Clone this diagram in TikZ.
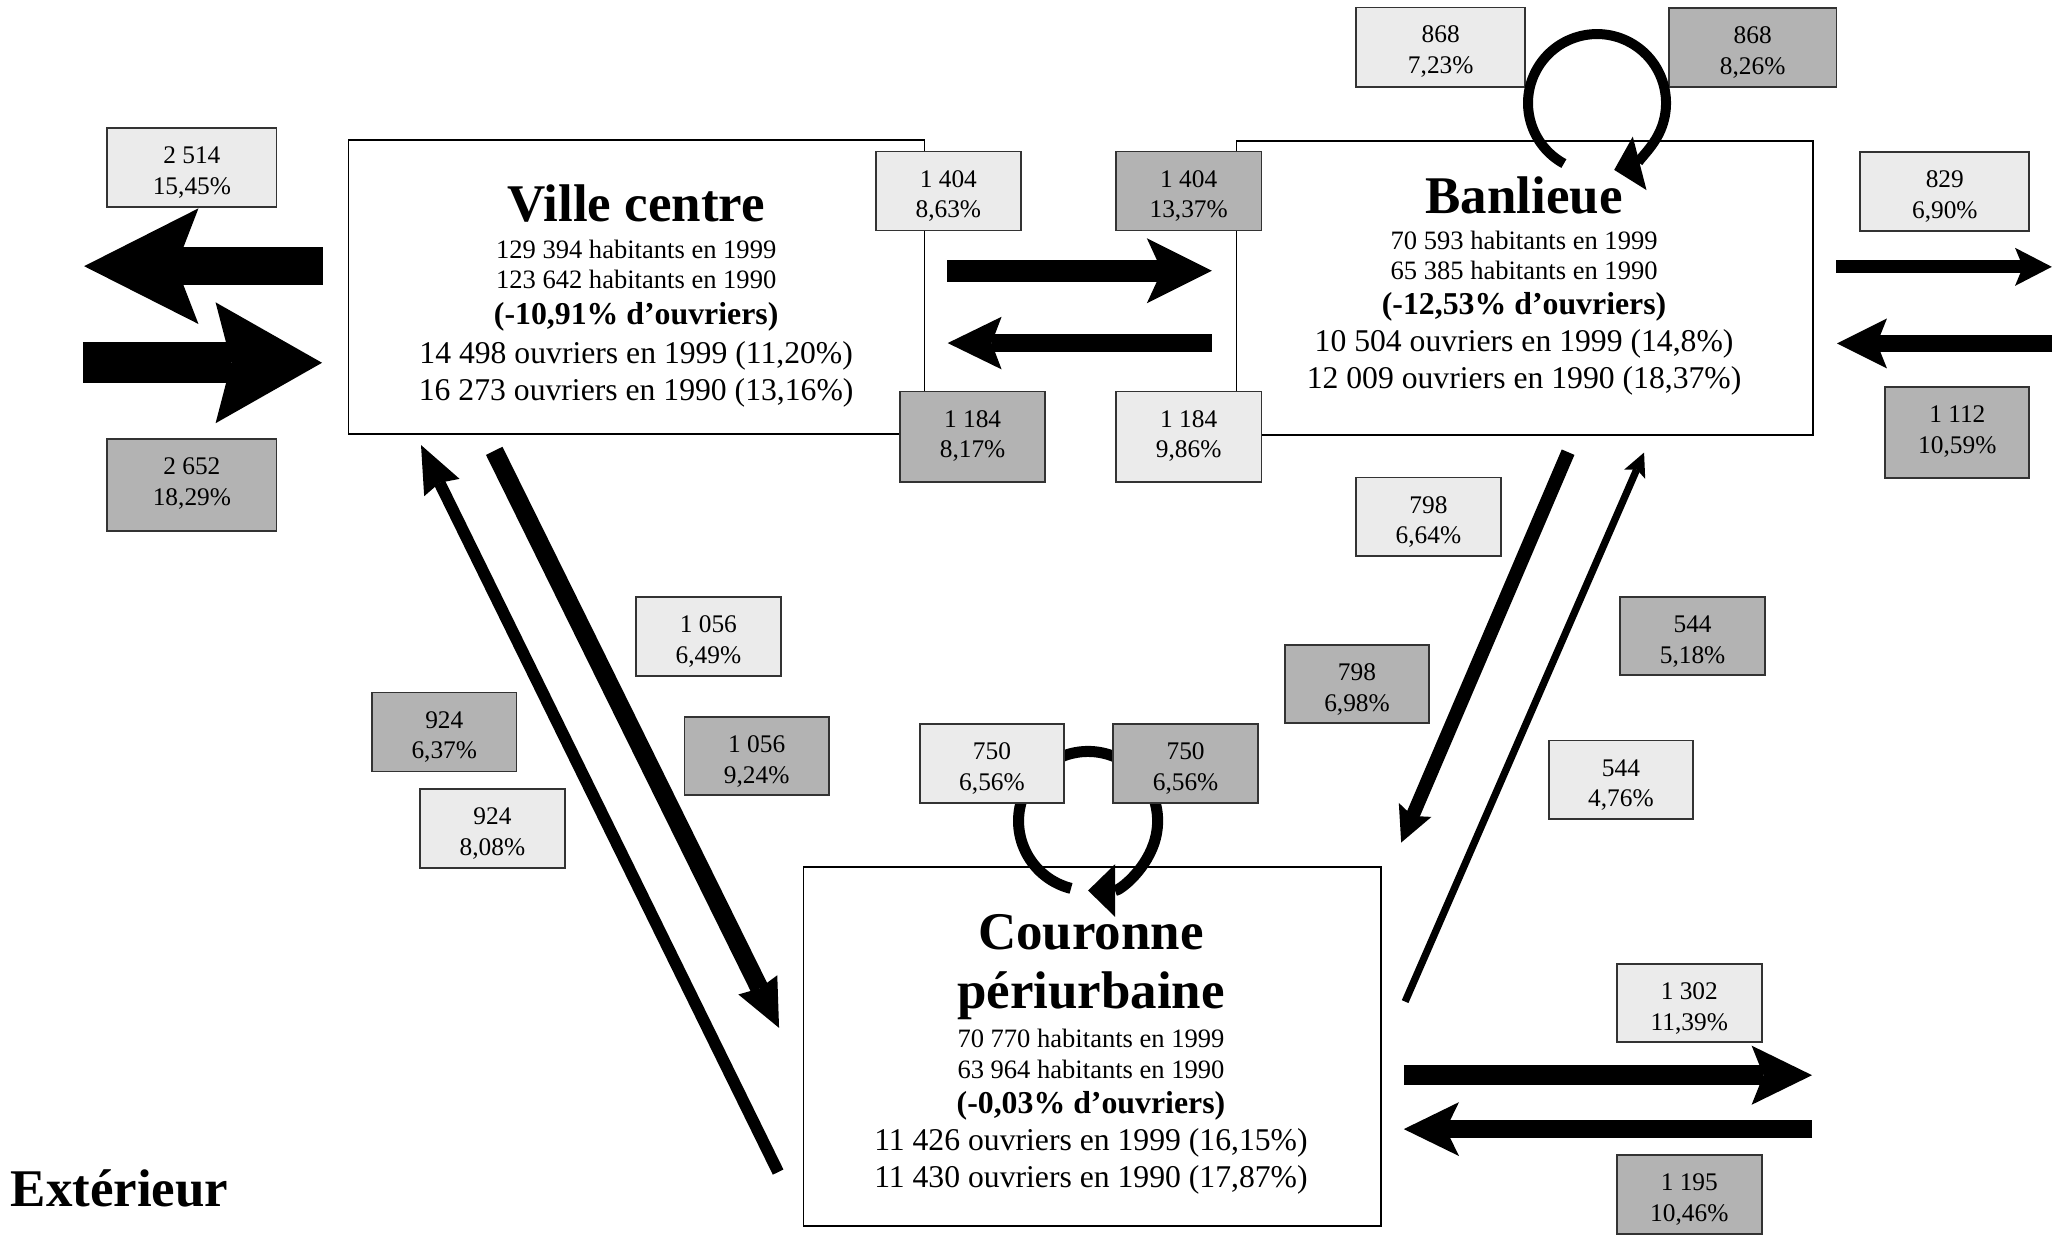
\documentclass[tikz,border=0pt]{standalone}
\usepackage{fontspec}
\setmainfont{Liberation Serif}
\usetikzlibrary{arrows.meta,calc}

\definecolor{palegrey}{HTML}{EBEBEB}
\definecolor{midgrey}{HTML}{B3B3B3}

\tikzset{
  zone/.style={draw=black, line width=1.2pt, fill=white, inner sep=0pt, anchor=north west},
  countbox/.style={draw=black!80, line width=1.4pt, inner sep=0pt, anchor=north west,
      font=\fontsize{19.3}{23.5}\selectfont, text height=27pt},
  outbox/.style={countbox, fill=palegrey},
  inbox/.style={countbox, fill=midgrey},
  zonetitle/.style={anchor=base, inner sep=0pt, font=\bfseries\fontsize{40.3}{44}\selectfont},
  popline/.style={anchor=base, inner sep=0pt, font=\fontsize{20.2}{24}\selectfont},
  rateline/.style={anchor=base, inner sep=0pt, font=\bfseries\fontsize{24.2}{28}\selectfont},
  workline/.style={anchor=base, inner sep=0pt, font=\fontsize{24.1}{28}\selectfont},
  flowarrow/.style n args={4}{line width=#1pt,
      -{Stealth[length=#2pt, width=#3pt, inset=#4pt, line width=0pt]}},
  looparrow/.style n args={3}{line width=#1pt,
      -{Triangle[length=#2pt, width=#3pt, line width=0pt]}},
}

% grey box with a count and a share, text hung from the top edge
\newcommand\countnode[8]{%
  \node[#1, minimum width=#5pt, minimum height=#6pt, text depth=\fpeval{#6-27}pt]
    (#2) at (#3,#4) {\parbox[t]{100pt}{\centering #7\\#8}};}

\begin{document}
\begin{tikzpicture}[x=1pt, y=-1pt]
  \fill[white] (0,0) rectangle (1568,945);
  \useasboundingbox (0,0) rectangle (1568,945);

  % the three zones
  \node[zone, minimum width=438.2pt, minimum height=223.7pt] (vc) at (264.4,106) {};
  \node[zone, minimum width=438.6pt, minimum height=223.7pt] (ban) at (940,106.5) {};
  \node[zone, minimum width=439.2pt, minimum height=273pt] (cour) at (610.8,659) {};

  \node[zonetitle] (vc-name) at (484,168.5) {Ville centre};
  \node[popline]   (vc-pop99) at (484,197) {129 394 habitants en 1999};
  \node[popline]   (vc-pop90) at (484,219.5) {123 642 habitants en 1990};
  \node[rateline]  (vc-rate) at (484,247) {(-10,91\% d’ouvriers)};
  \node[workline]  (vc-w99) at (484,276.5) {14 498 ouvriers en 1999 (11,20\%)};
  \node[workline]  (vc-w90) at (484,304.5) {16 273 ouvriers en 1990 (13,16\%)};

  \node[zonetitle] (ban-name) at (1159.5,162.3) {Banlieue};
  \node[popline]   (ban-pop99) at (1159.5,189.7) {70 593 habitants en 1999};
  \node[popline]   (ban-pop90) at (1159.5,212.5) {65 385 habitants en 1990};
  \node[rateline]  (ban-rate) at (1159.5,239.6) {(-12,53\% d’ouvriers)};
  \node[workline]  (ban-w99) at (1159.5,267.6) {10 504 ouvriers en 1999 (14,8\%)};
  \node[workline]  (ban-w90) at (1159.5,295.4) {12 009 ouvriers en 1990 (18,37\%)};

  \node[zonetitle] (cour-name1) at (830,722) {Couronne};
  \node[zonetitle] (cour-name2) at (830,767) {périurbaine};
  \node[popline]   (cour-pop99) at (830,797) {70 770 habitants en 1999};
  \node[popline]   (cour-pop90) at (830,820.5) {63 964 habitants en 1990};
  \node[rateline]  (cour-rate) at (830,847.5) {(-0,03\% d’ouvriers)};
  \node[workline]  (cour-w99) at (830,875.5) {11 426 ouvriers en 1999 (16,15\%)};
  \node[workline]  (cour-w90) at (830,903.5) {11 430 ouvriers en 1990 (17,87\%)};

  \node[zonetitle, anchor=base west] (ext) at (8,918) {Extérieur};

  % flow arrow ends
  \coordinate (vcOutS) at (245.7,202.5);  \coordinate (vcOutE) at (64,202.5);
  \coordinate (vcInS) at (63,276);        \coordinate (vcInE) at (245,276);
  \coordinate (vbS) at (720.5,206);       \coordinate (vbE) at (922,206);
  \coordinate (bvS) at (922,261);         \coordinate (bvE) at (721,261);
  \coordinate (banOutS) at (1397,203);    \coordinate (banOutE) at (1561,203);
  \coordinate (banInS) at (1561,261.3);   \coordinate (banInE) at (1397.6,261.3);
  \coordinate (vcS) at (376,343);         \coordinate (vcE) at (592.7,782);
  \coordinate (cvS) at (592,891.7);       \coordinate (cvE) at (320.3,338.6);
  \coordinate (bcS) at (1193,344);        \coordinate (bcE) at (1066,641);
  \coordinate (cbS) at (1069,762);        \coordinate (cbE) at (1250.8,344.3);
  \coordinate (courOutS) at (1068,818);   \coordinate (courOutE) at (1378.6,818);
  \coordinate (courInS) at (1378.6,859);  \coordinate (courInE) at (1068,859);
  \coordinate (banLoop) at (1215,78.4);
  \coordinate (courLoop) at (827.8,624.6);

  \draw[flowarrow={29}{87}{88}{17}] (vcOutS) -- (vcOutE);
  \draw[flowarrow={31}{81}{92}{12}] (vcInS) -- (vcInE);
  \draw[flowarrow={16.7}{49.5}{49.5}{11.4}] (vbS) -- (vbE);
  \draw[flowarrow={13.7}{41}{40}{7.6}] (bvS) -- (bvE);
  \draw[flowarrow={9.9}{28}{29}{6}] (banOutS) -- (banOutE);
  \draw[flowarrow={12.9}{38}{38}{7.6}] (banInS) -- (banInE);
  \draw[flowarrow={14}{36.5}{33}{3}] (vcS) -- (vcE);
  \draw[flowarrow={9}{36}{30}{4}] (cvS) -- (cvE);
  \draw[flowarrow={10.5}{27}{27}{5}] (bcS) -- (bcE);
  \draw[flowarrow={5.5}{18}{17.5}{4}] (cbS) -- (cbE);
  \draw[flowarrow={15}{46}{45}{9}] (courOutS) -- (courOutE);
  \draw[flowarrow={13.4}{42}{41}{10}] (courInS) -- (courInE);

  % flows staying inside the crown
  \draw[looparrow={8.4}{20.5}{40}] ($(courLoop)+(104.2:52.9)$)
    arc[start angle=104.2, end angle=450, radius=52.9];

  % counts and shares
  \countnode{outbox}{b2514}{81}{96.5}{128.6}{60.5}{2 514}{15,45\%}
  \countnode{inbox}{b2652}{81}{333}{128.6}{70}{2 652}{18,29\%}
  \countnode{outbox}{b1404l}{665.6}{114.6}{110.4}{60}{1 404}{8,63\%}
  \countnode{inbox}{b1184l}{684}{297.2}{110.5}{69}{1 184}{8,17\%}
  \countnode{inbox}{b1404r}{848.3}{114.6}{110.7}{60}{1 404}{13,37\%}
  \countnode{outbox}{b1184r}{848.3}{297.2}{110.7}{69}{1 184}{9,86\%}
  \countnode{outbox}{b868l}{1031}{5}{128.8}{60.4}{868}{7,23\%}
  \countnode{inbox}{b868r}{1268.9}{5.3}{127.6}{60.4}{868}{8,26\%}
  \countnode{outbox}{b829}{1414.6}{114.9}{128.6}{60}{829}{6,90\%}
  \countnode{inbox}{b1112}{1433.6}{293.7}{109.6}{69}{1 112}{10,59\%}
  \countnode{outbox}{b798u}{1030.9}{362.6}{110.3}{59.4}{798}{6,64\%}
  \countnode{inbox}{b798d}{976.7}{489.9}{110}{59.6}{798}{6,98\%}
  \countnode{inbox}{b544u}{1232}{453.5}{110}{59.5}{544}{5,18\%}
  \countnode{outbox}{b544d}{1177.5}{562.7}{110}{59.6}{544}{4,76\%}
  \countnode{outbox}{b1056u}{483.1}{453.4}{110.3}{60.2}{1 056}{6,49\%}
  \countnode{inbox}{b1056d}{520}{544.7}{110}{59.3}{1 056}{9,24\%}
  \countnode{inbox}{b924u}{282.3}{526.2}{110}{60.1}{924}{6,37\%}
  \countnode{outbox}{b924d}{318.8}{599.8}{110.3}{59.6}{924}{8,08\%}
  \countnode{outbox}{b750l}{699}{550.3}{110}{59.6}{750}{6,56\%}
  \countnode{inbox}{b750r}{846.3}{550.3}{110}{59.6}{750}{6,56\%}
  \countnode{outbox}{b1302}{1229.5}{733}{110}{59}{1 302}{11,39\%}
  \countnode{inbox}{b1195}{1229.5}{878}{110}{60}{1 195}{10,46\%}

  % flows staying inside the suburbs
  \draw[looparrow={7.6}{20}{42}] ($(banLoop)+(118.7:52.5)$)
    arc[start angle=118.7, end angle=435.6, radius=52.5];
\end{tikzpicture}
\end{document}
